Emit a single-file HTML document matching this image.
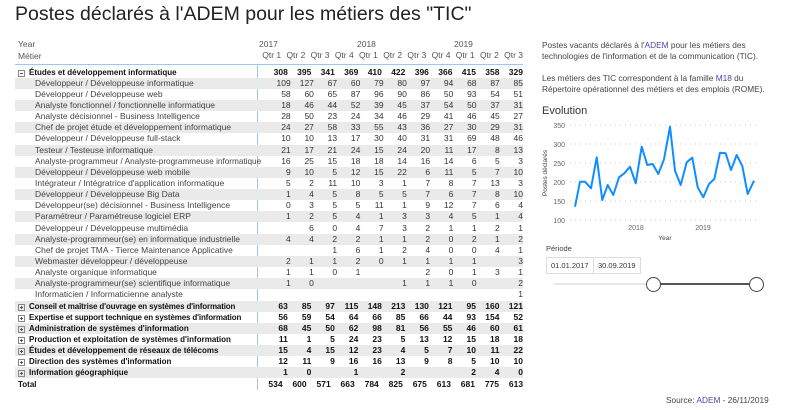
<!DOCTYPE html>
<html><head><meta charset="utf-8"><style>
body{margin:0;width:800px;height:410px;background:#fff;font-family:"Liberation Sans",sans-serif;color:#333;position:relative;overflow:hidden}
.t{position:absolute;white-space:nowrap}
#title{left:15px;top:3px;font-size:19.5px;color:#222}
.row{position:absolute;left:15px;width:508px;height:11.14px;font-size:8.5px;line-height:11.14px;display:flex}
.g{background:#eaeaea}
.lab{width:242px;overflow:hidden;white-space:nowrap;position:relative}
.n{width:24.2px;text-align:right;box-sizing:border-box}
.b{font-weight:bold;color:#111}
.b .lab{font-size:8px}
.ind{padding-left:20px;color:#444}
.hd{padding-left:14px}
.box{position:absolute;left:3px;top:3px;width:5px;height:5px;border:1px solid #888}
.box.m::after{content:"";position:absolute;left:1px;top:2px;width:3px;height:1px;background:#555}
.box.p::after{content:"";position:absolute;left:1px;top:2px;width:3px;height:1px;background:#555}
.box.p::before{content:"";position:absolute;left:2px;top:1px;width:1px;height:3px;background:#555}
a{color:#5b3fa0}
</style></head><body>
<div class="t" id="title">Postes déclarés à l'ADEM pour les métiers des "TIC"</div>
<div class="t" style="left:18px;top:39px;font-size:8.5px;color:#555">Year</div>
<div class="t" style="left:18px;top:51px;font-size:8.5px;color:#555">Métier</div>
<div class="t" style="left:259px;top:39px;font-size:8.5px;color:#555">2017</div>
<div class="t" style="left:357px;top:39px;font-size:8.5px;color:#555">2018</div>
<div class="t" style="left:454px;top:39px;font-size:8.5px;color:#555">2019</div>
<div class="row" style="top:50px;color:#555"><div class="lab"></div><div class="n">Qtr 1</div><div class="n">Qtr 2</div><div class="n">Qtr 3</div><div class="n">Qtr 4</div><div class="n">Qtr 1</div><div class="n">Qtr 2</div><div class="n">Qtr 3</div><div class="n">Qtr 4</div><div class="n">Qtr 1</div><div class="n">Qtr 2</div><div class="n">Qtr 3</div></div>
<div style="position:absolute;left:15px;top:64px;width:508px;height:1px;background:#9cc8f0"></div>
<div style="position:absolute;left:257px;top:64px;width:1px;height:326px;background:#9cc8f0"></div>

<div class="row b" style="top:66.5px"><div class="lab hd"><span class="box m"></span>Études et développement informatique</div><div class="n">308</div><div class="n">395</div><div class="n">341</div><div class="n">369</div><div class="n">410</div><div class="n">422</div><div class="n">396</div><div class="n">366</div><div class="n">415</div><div class="n">358</div><div class="n">329</div></div>
<div class="row g" style="top:77.6px"><div class="lab ind">Développeur / Développeuse informatique</div><div class="n">109</div><div class="n">127</div><div class="n">67</div><div class="n">60</div><div class="n">79</div><div class="n">80</div><div class="n">97</div><div class="n">94</div><div class="n">68</div><div class="n">87</div><div class="n">85</div></div>
<div class="row" style="top:88.8px"><div class="lab ind">Développeur / Développeuse web</div><div class="n">58</div><div class="n">60</div><div class="n">65</div><div class="n">87</div><div class="n">96</div><div class="n">90</div><div class="n">86</div><div class="n">50</div><div class="n">93</div><div class="n">54</div><div class="n">51</div></div>
<div class="row g" style="top:99.9px"><div class="lab ind">Analyste fonctionnel / fonctionnelle informatique</div><div class="n">18</div><div class="n">46</div><div class="n">44</div><div class="n">52</div><div class="n">39</div><div class="n">45</div><div class="n">37</div><div class="n">54</div><div class="n">50</div><div class="n">37</div><div class="n">31</div></div>
<div class="row" style="top:111.1px"><div class="lab ind">Analyste décisionnel - Business Intelligence</div><div class="n">28</div><div class="n">50</div><div class="n">23</div><div class="n">24</div><div class="n">34</div><div class="n">46</div><div class="n">29</div><div class="n">41</div><div class="n">46</div><div class="n">45</div><div class="n">27</div></div>
<div class="row g" style="top:122.2px"><div class="lab ind">Chef de projet étude et développement informatique</div><div class="n">24</div><div class="n">27</div><div class="n">58</div><div class="n">33</div><div class="n">55</div><div class="n">43</div><div class="n">36</div><div class="n">27</div><div class="n">30</div><div class="n">29</div><div class="n">31</div></div>
<div class="row" style="top:133.3px"><div class="lab ind">Développeur / Développeuse full-stack</div><div class="n">10</div><div class="n">10</div><div class="n">13</div><div class="n">17</div><div class="n">30</div><div class="n">40</div><div class="n">31</div><div class="n">31</div><div class="n">69</div><div class="n">48</div><div class="n">46</div></div>
<div class="row g" style="top:144.5px"><div class="lab ind">Testeur / Testeuse informatique</div><div class="n">21</div><div class="n">17</div><div class="n">21</div><div class="n">24</div><div class="n">15</div><div class="n">24</div><div class="n">20</div><div class="n">11</div><div class="n">17</div><div class="n">8</div><div class="n">13</div></div>
<div class="row" style="top:155.6px"><div class="lab ind" style="font-size:8.2px">Analyste-programmeur / Analyste-programmeuse informatique</div><div class="n">16</div><div class="n">25</div><div class="n">15</div><div class="n">18</div><div class="n">18</div><div class="n">14</div><div class="n">16</div><div class="n">14</div><div class="n">6</div><div class="n">5</div><div class="n">3</div></div>
<div class="row g" style="top:166.8px"><div class="lab ind">Développeur / Développeuse web mobile</div><div class="n">9</div><div class="n">10</div><div class="n">5</div><div class="n">12</div><div class="n">15</div><div class="n">22</div><div class="n">6</div><div class="n">11</div><div class="n">5</div><div class="n">7</div><div class="n">10</div></div>
<div class="row" style="top:177.9px"><div class="lab ind">Intégrateur / Intégratrice d'application informatique</div><div class="n">5</div><div class="n">2</div><div class="n">11</div><div class="n">10</div><div class="n">3</div><div class="n">1</div><div class="n">7</div><div class="n">8</div><div class="n">7</div><div class="n">13</div><div class="n">3</div></div>
<div class="row g" style="top:189.1px"><div class="lab ind">Développeur / Développeuse Big Data</div><div class="n">1</div><div class="n">4</div><div class="n">5</div><div class="n">8</div><div class="n">5</div><div class="n">5</div><div class="n">7</div><div class="n">6</div><div class="n">7</div><div class="n">8</div><div class="n">10</div></div>
<div class="row" style="top:200.2px"><div class="lab ind">Développeur(se) décisionnel - Business Intelligence</div><div class="n">0</div><div class="n">3</div><div class="n">5</div><div class="n">5</div><div class="n">11</div><div class="n">1</div><div class="n">9</div><div class="n">12</div><div class="n">7</div><div class="n">6</div><div class="n">4</div></div>
<div class="row g" style="top:211.3px"><div class="lab ind">Paramétreur / Paramétreuse logiciel ERP</div><div class="n">1</div><div class="n">2</div><div class="n">5</div><div class="n">4</div><div class="n">1</div><div class="n">3</div><div class="n">3</div><div class="n">4</div><div class="n">5</div><div class="n">1</div><div class="n">4</div></div>
<div class="row" style="top:222.5px"><div class="lab ind">Développeur / Développeuse multimédia</div><div class="n"></div><div class="n">6</div><div class="n">0</div><div class="n">4</div><div class="n">7</div><div class="n">3</div><div class="n">2</div><div class="n">1</div><div class="n">1</div><div class="n">2</div><div class="n">1</div></div>
<div class="row g" style="top:233.6px"><div class="lab ind">Analyste-programmeur(se) en informatique industrielle</div><div class="n">4</div><div class="n">4</div><div class="n">2</div><div class="n">2</div><div class="n">1</div><div class="n">1</div><div class="n">2</div><div class="n">0</div><div class="n">2</div><div class="n">1</div><div class="n">2</div></div>
<div class="row" style="top:244.8px"><div class="lab ind">Chef de projet TMA - Tierce Maintenance Applicative</div><div class="n"></div><div class="n"></div><div class="n">1</div><div class="n">6</div><div class="n">1</div><div class="n">2</div><div class="n">4</div><div class="n">0</div><div class="n">0</div><div class="n">4</div><div class="n">1</div></div>
<div class="row g" style="top:255.9px"><div class="lab ind">Webmaster développeur / développeuse</div><div class="n">2</div><div class="n">1</div><div class="n">1</div><div class="n">2</div><div class="n">0</div><div class="n">1</div><div class="n">1</div><div class="n">1</div><div class="n">1</div><div class="n"></div><div class="n">3</div></div>
<div class="row" style="top:267.1px"><div class="lab ind">Analyste organique informatique</div><div class="n">1</div><div class="n">1</div><div class="n">0</div><div class="n">1</div><div class="n"></div><div class="n"></div><div class="n">2</div><div class="n">0</div><div class="n">1</div><div class="n">3</div><div class="n">1</div></div>
<div class="row g" style="top:278.2px"><div class="lab ind">Analyste-programmeur(se) scientifique informatique</div><div class="n">1</div><div class="n">0</div><div class="n"></div><div class="n"></div><div class="n"></div><div class="n">1</div><div class="n">1</div><div class="n">1</div><div class="n">0</div><div class="n"></div><div class="n">2</div></div>
<div class="row" style="top:289.3px"><div class="lab ind">Informaticien / Informaticienne analyste</div><div class="n"></div><div class="n"></div><div class="n"></div><div class="n"></div><div class="n"></div><div class="n"></div><div class="n"></div><div class="n"></div><div class="n"></div><div class="n"></div><div class="n">1</div></div>
<div class="row b g" style="top:300.5px"><div class="lab hd" style="letter-spacing:-0.15px"><span class="box p"></span>Conseil et maîtrise d'ouvrage en systèmes d'information</div><div class="n">63</div><div class="n">85</div><div class="n">97</div><div class="n">115</div><div class="n">148</div><div class="n">213</div><div class="n">130</div><div class="n">121</div><div class="n">95</div><div class="n">160</div><div class="n">121</div></div>
<div class="row b" style="top:311.6px"><div class="lab hd" style="letter-spacing:-0.15px"><span class="box p"></span>Expertise et support technique en systèmes d'information</div><div class="n">56</div><div class="n">59</div><div class="n">54</div><div class="n">64</div><div class="n">66</div><div class="n">85</div><div class="n">66</div><div class="n">44</div><div class="n">93</div><div class="n">154</div><div class="n">52</div></div>
<div class="row b g" style="top:322.8px"><div class="lab hd"><span class="box p"></span>Administration de systèmes d'information</div><div class="n">68</div><div class="n">45</div><div class="n">50</div><div class="n">62</div><div class="n">98</div><div class="n">81</div><div class="n">56</div><div class="n">55</div><div class="n">46</div><div class="n">60</div><div class="n">61</div></div>
<div class="row b" style="top:333.9px"><div class="lab hd"><span class="box p"></span>Production et exploitation de systèmes d'information</div><div class="n">11</div><div class="n">1</div><div class="n">5</div><div class="n">24</div><div class="n">23</div><div class="n">5</div><div class="n">13</div><div class="n">12</div><div class="n">15</div><div class="n">18</div><div class="n">18</div></div>
<div class="row b g" style="top:345.1px"><div class="lab hd"><span class="box p"></span>Études et développement de réseaux de télécoms</div><div class="n">15</div><div class="n">4</div><div class="n">15</div><div class="n">12</div><div class="n">23</div><div class="n">4</div><div class="n">5</div><div class="n">7</div><div class="n">10</div><div class="n">11</div><div class="n">22</div></div>
<div class="row b" style="top:356.2px"><div class="lab hd"><span class="box p"></span>Direction des systèmes d'information</div><div class="n">12</div><div class="n">11</div><div class="n">9</div><div class="n">16</div><div class="n">16</div><div class="n">13</div><div class="n">9</div><div class="n">8</div><div class="n">5</div><div class="n">10</div><div class="n">10</div></div>
<div class="row b g" style="top:367.3px"><div class="lab hd"><span class="box p"></span>Information géographique</div><div class="n">1</div><div class="n">0</div><div class="n"></div><div class="n">1</div><div class="n"></div><div class="n">2</div><div class="n"></div><div class="n"></div><div class="n">2</div><div class="n">4</div><div class="n">0</div></div>
<div class="row b" style="top:378.5px"><div class="lab" style="padding-left:3px">Total</div><div class="n">534</div><div class="n">600</div><div class="n">571</div><div class="n">663</div><div class="n">784</div><div class="n">825</div><div class="n">675</div><div class="n">613</div><div class="n">681</div><div class="n">775</div><div class="n">613</div></div>

<div class="t" style="left:542px;top:40px;font-size:8.3px;line-height:11px;color:#444">Postes vacants déclarés à l'<a>ADEM</a> pour les métiers des<br>technologies de l'information et de la communication (TIC).<br><br>Les métiers des TIC correspondent à la famille <a>M18</a> du<br>Répertoire opérationnel des métiers et des emplois (ROME).</div>
<div class="t" style="left:542px;top:105px;font-size:11px;color:#333">Evolution</div>
<svg style="position:absolute;left:530px;top:100px" width="270" height="210">
<g stroke="#ccc" stroke-dasharray="1,4" stroke-width="1">
<line x1="40" y1="25" x2="230" y2="25"/><line x1="40" y1="44" x2="230" y2="44"/><line x1="40" y1="63" x2="230" y2="63"/><line x1="40" y1="82" x2="230" y2="82"/><line x1="40" y1="101" x2="230" y2="101"/><line x1="40" y1="120" x2="230" y2="120"/></g>
<g font-size="7" fill="#666" text-anchor="end" font-family="Liberation Sans">
<text x="35" y="28">350</text><text x="35" y="47">300</text><text x="35" y="66">250</text><text x="35" y="85">200</text><text x="35" y="104">150</text><text x="35" y="123">100</text></g>
<text x="106" y="130" font-size="7" fill="#666" text-anchor="middle">2018</text>
<text x="173" y="130" font-size="7" fill="#666" text-anchor="middle">2019</text>
<text x="135" y="140" font-size="6.5" fill="#444" text-anchor="middle">Year</text>
<text transform="translate(17,73) rotate(-90)" font-size="6.5" fill="#444" text-anchor="middle">Postes déclarés</text>
<polyline fill="none" stroke="#118DFF" stroke-width="2" stroke-linejoin="round" points="45,106.7 50,81.7 55,81.7 61,88.3 66.7,57.3 72.3,100 77.7,85 83.3,95 89,77.3 94.3,73.3 100,66.7 105.7,83.3 111.7,46.7 117.3,65 122.7,64 128.3,74 134,59.3 140,26.7 145,70.7 150.7,85 156.7,62.3 162.3,57.7 167.7,87.3 173.3,97.3 179,84 184.3,79 190,52.7 195.7,53.3 201,70 206.7,55 212.3,66 217.7,94 224,80.7"/>
</svg>
<div class="t" style="left:546px;top:244px;font-size:7.5px;color:#444">Période</div>
<div class="t" style="left:546px;top:257px;width:42px;height:15px;border:1px solid #ddd;font-size:7.5px;line-height:15px;padding-left:4px;color:#333">01.01.2017</div>
<div class="t" style="left:593px;top:257px;width:42px;height:15px;border:1px solid #ddd;font-size:7.5px;line-height:15px;padding-left:4px;color:#333">30.09.2019</div>
<div style="position:absolute;left:554px;top:283px;width:100px;height:2px;background:#e8e8e8"></div>
<div style="position:absolute;left:654px;top:283px;width:102px;height:2px;background:#555"></div>
<div style="position:absolute;left:646px;top:277px;width:13px;height:13px;border:1.5px solid #444;border-radius:50%;background:#fff"></div>
<div style="position:absolute;left:749px;top:277px;width:13px;height:13px;border:1.5px solid #444;border-radius:50%;background:#fff"></div>
<div class="t" style="left:666px;top:395px;font-size:8.3px;color:#444">Source: <a>ADEM</a> - 26/11/2019</div>
</body></html>
